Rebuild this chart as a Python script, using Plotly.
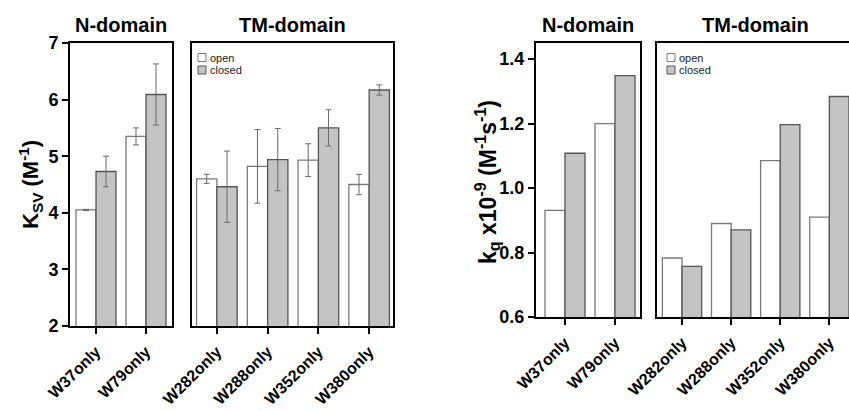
import plotly.graph_objects as go

W, H = 849, 411

# ---------------- data ----------------
n_cats = ["W37only", "W79only"]
tm_cats = ["W282only", "W288only", "W352only", "W380only"]

ksv_n_open = [4.05, 5.35]
ksv_n_open_err = [0.01, 0.15]
ksv_n_closed = [4.73, 6.09]
ksv_n_closed_err = [0.27, 0.54]
ksv_tm_open = [4.60, 4.82, 4.93, 4.50]
ksv_tm_open_err = [0.08, 0.65, 0.29, 0.18]
ksv_tm_closed = [4.46, 4.94, 5.50, 6.17]
ksv_tm_closed_err = [0.63, 0.55, 0.32, 0.09]

kq_n_open = [0.931, 1.200]
kq_n_closed = [1.108, 1.349]
kq_tm_open = [0.783, 0.890, 1.085, 0.910]
kq_tm_closed = [0.757, 0.870, 1.197, 1.284]

series_names = ["open", "closed"]

# ---------------- styles ----------------
FONT = "Liberation Sans, Arial, Helvetica, sans-serif"
OPEN_FILL = "#ffffff"
OPEN_LINE = "#7a7a7a"
CLOSED_FILL = "#c4c4c4"
CLOSED_LINE = "#555555"
ERR_COLOR = "#6a6a6a"


def px_x(p):
    return p / W


def px_y(p):
    return 1 - p / H


fig = go.Figure()


def add_pair(cats, open_v, closed_v, xa, ya, open_err=None, closed_err=None):
    for name, vals, err, fill, line in [
        (series_names[0], open_v, open_err, OPEN_FILL, OPEN_LINE),
        (series_names[1], closed_v, closed_err, CLOSED_FILL, CLOSED_LINE),
    ]:
        kw = {}
        if err is not None:
            kw["error_y"] = dict(type="data", array=err, color=ERR_COLOR,
                                 thickness=1, width=3)
        fig.add_trace(go.Bar(
            x=cats, y=vals, name=name, xaxis=xa, yaxis=ya,
            marker=dict(color=fill, line=dict(color=line, width=1.3)),
            showlegend=False, **kw))


add_pair(n_cats, ksv_n_open, ksv_n_closed, "x", "y", ksv_n_open_err, ksv_n_closed_err)
add_pair(tm_cats, ksv_tm_open, ksv_tm_closed, "x2", "y2", ksv_tm_open_err, ksv_tm_closed_err)
add_pair(n_cats, kq_n_open, kq_n_closed, "x3", "y3")
add_pair(tm_cats, kq_tm_open, kq_tm_closed, "x4", "y4")

# panel layout in pixels: (x0, x1, y_top, y_bottom)
panels = {
    "1": (70, 172, 43, 326),
    "2": (192, 393, 43, 326),
    "3": (536, 640, 43, 317),
    "4": (657, 849, 43, 317),
}
xranges = {"1": [-0.52, 1.52], "2": [-0.49, 3.47], "3": [-0.58, 1.5], "4": [-0.51, 3.40]}

xtickfont = dict(family=FONT, size=16, color="black", weight="bold")
ytickfont = dict(family=FONT, size=18, color="black", weight="bold")

layout = {}
for k, (x0, x1, yt, yb) in panels.items():
    xname = "xaxis" if k == "1" else f"xaxis{k}"
    yname = "yaxis" if k == "1" else f"yaxis{k}"
    layout[xname] = dict(
        domain=[px_x(x0), px_x(x1)], anchor="y" if k == "1" else f"y{k}",
        range=xranges[k], showline=True, linecolor="black", linewidth=2,
        mirror=True, ticks="outside", ticklen=6, tickwidth=2, tickcolor="black",
        tickangle=-45, tickfont=xtickfont, ticklabelstandoff=2,
        showgrid=False, zeroline=False, fixedrange=True, automargin=False,
    )
    ydict = dict(
        domain=[px_y(yb), px_y(yt)], anchor="x" if k == "1" else f"x{k}",
        showline=True, linecolor="black", linewidth=2,
        mirror=(k != "4"), showgrid=False, zeroline=False, fixedrange=True,
        automargin=False,
    )
    if k in ("1", "2"):
        ydict["range"] = [2, 7]
        ydict["dtick"] = 1
    else:
        ydict["range"] = [0.6, 1.45]
        ydict["dtick"] = 0.2
        ydict["tickformat"] = ".1f"
    if k in ("1", "3"):
        ydict.update(ticks="outside", ticklen=6, tickwidth=2, tickcolor="black",
                     tickfont=ytickfont, tick0=ydict["range"][0])
    else:
        ydict.update(showticklabels=False, ticks="")
    layout[yname] = ydict

annotations = []
shapes = []

title_font = dict(family=FONT, size=20, color="black", weight="bold")
for txt, cx in [("N-domain", 121), ("TM-domain", 292), ("N-domain", 588), ("TM-domain", 755)]:
    annotations.append(dict(text=txt, x=px_x(cx), y=px_y(25), xref="paper", yref="paper",
                            xanchor="center", yanchor="middle", showarrow=False,
                            font=title_font))

ytitle_font = dict(family=FONT, size=22, color="black", weight="bold")
annotations.append(dict(text="K<sub>SV</sub> (M<sup>-1</sup>)", x=px_x(30), y=px_y(185),
                        xref="paper", yref="paper", xanchor="center", yanchor="middle",
                        textangle=-90, showarrow=False, font=ytitle_font))
annotations.append(dict(text="k<sub>q</sub> x10<sup>-9</sup> (M<sup>-1</sup>s<sup>-1</sup>)",
                        x=px_x(487), y=px_y(182), xref="paper", yref="paper",
                        xanchor="center", yanchor="middle", textangle=-90,
                        showarrow=False, font=dict(family=FONT, size=23, color="black",
                                                   weight="bold")))

# legends (drawn as decoration)
leg_font = dict(family=FONT, size=11, color="#222222")
for lx in (198, 667):
    for i, (name, fill, line) in enumerate([(series_names[0], OPEN_FILL, OPEN_LINE),
                                           (series_names[1], CLOSED_FILL, CLOSED_LINE)]):
        cy = 57.5 + i * 12.5
        shapes.append(dict(type="rect", xref="paper", yref="paper",
                           x0=px_x(lx), x1=px_x(lx + 8), y0=px_y(cy + 4), y1=px_y(cy - 4),
                           fillcolor=fill, line=dict(color=line, width=1)))
        annotations.append(dict(text=name, x=px_x(lx + 10), y=px_y(cy), xref="paper",
                                yref="paper", xanchor="left", yanchor="middle",
                                showarrow=False, font=leg_font))

fig.update_layout(
    width=W, height=H, margin=dict(l=0, r=0, t=0, b=0, autoexpand=False),
    paper_bgcolor="white", plot_bgcolor="white",
    barmode="group", bargap=0.2, bargroupgap=0,
    annotations=annotations, shapes=shapes, showlegend=False,
    font=dict(family=FONT),
    **layout,
)

fig.write_html("out.html", config={"displayModeBar": False})
